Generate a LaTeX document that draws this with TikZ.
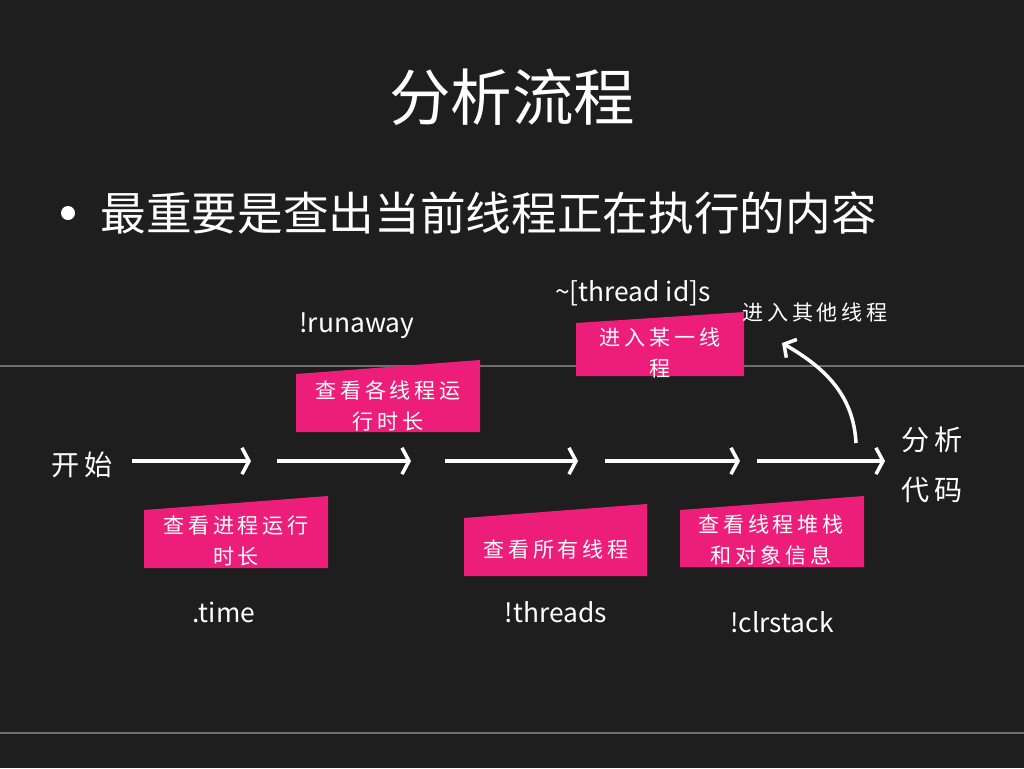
\documentclass[tikz,border=0pt]{standalone}
\usepackage{fontspec}
\setmainfont{Noto Sans CJK SC}
\newfontfamily\memofont[LetterSpace=18]{Noto Sans CJK SC}
\usetikzlibrary{arrows.meta}
\definecolor{board}{RGB}{30,30,30}
\definecolor{ruleline}{RGB}{110,110,110}
\definecolor{memo}{RGB}{237,30,121}
\tikzset{
  chalk/.style={white,line width=2pt,-{Straight Barb[length=4pt,width=15pt]}},
  memobox/.style={fill=memo},
  memotext/.style={font=\memofont\fontsize{12}{18}\selectfont,align=center},
  cmd/.style={font=\fontsize{15}{18}\selectfont},
}
\begin{document}
\begin{tikzpicture}[x=0.02cm,y=-0.02cm]
	\fill[board] (0,0) rectangle (1024,768);
	\useasboundingbox (0,0) rectangle (1024,768);
	\draw[ruleline,line width=1.2pt] (0,366) -- (1024,366);
	\draw[ruleline,line width=1pt] (0,733) -- (1024,733);
	% pink notes
	\fill[memobox] (144,510) -- (328,496) -- (328,568) -- (144,568) -- cycle;
	\fill[memobox] (296,374) -- (480,360) -- (480,432) -- (296,432) -- cycle;
	\fill[memobox] (464,518) -- (647,504) -- (647,576) -- (464,576) -- cycle;
	\fill[memobox] (576,323) -- (744,312) -- (744,376) -- (576,376) -- cycle;
	\fill[memobox] (680,510) -- (864,496) -- (864,567) -- (680,567) -- cycle;
	\begin{scope}[every node/.style={text=white,inner sep=0pt}]
	\node[font=\fontsize{35}{42}\selectfont] (title) at (512,97) {分析流程};
	\fill[white] (68,213) circle (7);
	\coordinate (dot) at (68,213);
	\node[font=\fontsize{26}{30}\selectfont,anchor=west] (point) at (100,213) {最重要是查出当前线程正在执行的内容};
	\node[font=\memofont\fontsize{16}{20}\selectfont] (start) at (82,465) {开始};
	\node[font=\memofont\fontsize{16}{28.5}\selectfont,align=center] (finish) at (932,465) {分析\\代码};
	\node[memotext] (n1) at (236,541) {查看进程运行\\时长};
	\node[memotext] (n2) at (388,406) {查看各线程运\\行时长};
	\node[memotext] (n3) at (556,549) {查看所有线程};
	\node[memotext] (n4) at (660,353) {进入某一线\\程};
	\node[memotext] (n5) at (771,540) {查看线程堆栈\\和对象信息};
	\node[cmd] (c1) at (224,612) {.time};
	\node[cmd] (c2) at (357,326) {!runaway};
	\node[cmd] (c3) at (556,612) {!threads};
	\node[cmd] (c4) at (633,293) {\textasciitilde[thread id]s};
	\node[cmd] (c5) at (782,622) {!clrstack};
	\node[memotext] (other) at (815,312) {进入其他线程};
	\end{scope}
	% arrows along the flow
	\coordinate (p1) at (132,461);
	\coordinate (q1) at (251,461);
	\coordinate (p2) at (277,461);
	\coordinate (q2) at (411,461);
	\coordinate (p3) at (445,461);
	\coordinate (q3) at (578,461);
	\coordinate (p4) at (605,461);
	\coordinate (q4) at (740,461);
	\coordinate (p5) at (757,461);
	\coordinate (q5) at (885,461);
	\coordinate (up) at (856,443);
	\coordinate (back) at (782,343);
	\draw [chalk] (p1) -- (q1);
	\draw [chalk] (p2) -- (q2);
	\draw [chalk] (p3) -- (q3);
	\draw [chalk] (p4) -- (q4);
	\draw [chalk] (p5) -- (q5);
	\draw [white,line width=2pt,-{Straight Barb[length=5pt,width=12pt]}] (up) to[out=93,in=-30] (back);
\end{tikzpicture}
\end{document}
